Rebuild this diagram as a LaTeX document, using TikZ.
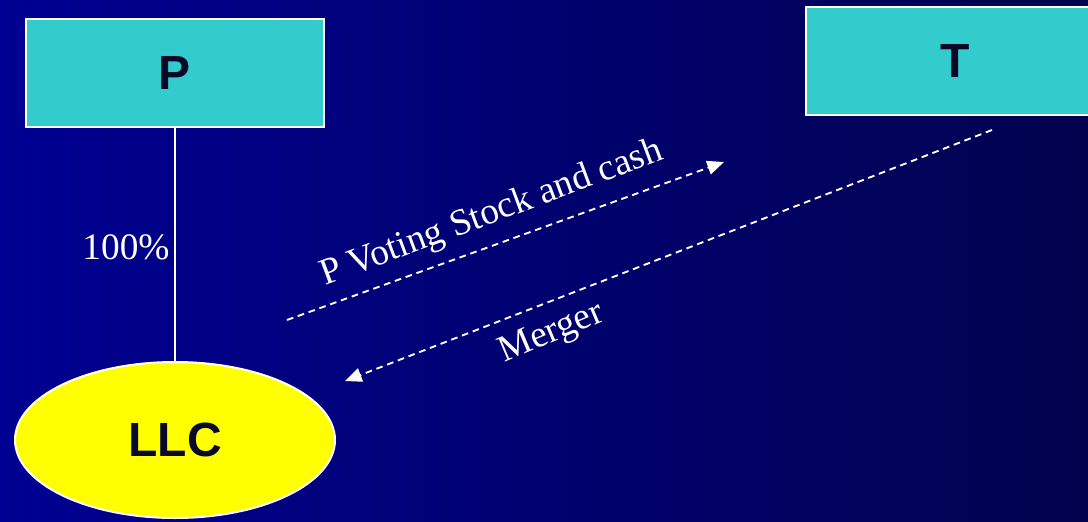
\documentclass[tikz,border=0pt]{standalone}
\usepackage{fontspec}
\setmainfont{Liberation Serif}
\newfontfamily\arialfont{Liberation Sans}
\usetikzlibrary{arrows.meta,shapes.geometric}
\definecolor{bgleft}{RGB}{0,0,146}
\definecolor{bgright}{RGB}{2,2,78}
\definecolor{boxcyan}{RGB}{51,204,204}
\definecolor{llcyellow}{RGB}{255,255,0}
\definecolor{inktext}{RGB}{8,8,40}
\tikzset{
  entity/.style={draw=white, line width=1.5pt, fill=boxcyan, minimum width=298*0.75pt, minimum height=108*0.75pt, inner sep=0pt,
    font=\arialfont\bfseries\fontsize{36}{40}\selectfont, text=inktext},
  llcshape/.style={ellipse, draw=white, line width=1.5pt, fill=llcyellow, minimum width=320*0.75pt, minimum height=156*0.75pt, inner sep=0pt,
    font=\arialfont\bfseries\fontsize{36}{40}\selectfont, text=inktext},
  owner/.style={draw=white, line width=1.2pt},
  flow/.style={draw=white, line width=1.4pt, dash pattern=on 5pt off 3.6pt, -{Triangle[length=12.5pt,width=10.5pt]}},
  lbl/.style={text=white, font=\fontsize{28}{30}\selectfont, inner sep=0pt}
}
\begin{document}
\begin{tikzpicture}[x=0.75pt,y=-0.75pt]
\useasboundingbox (0,0) rectangle (1088,521);
\clip (0,0) rectangle (1088,521);
\shade[left color=bgleft, right color=bgright] (0,0) rectangle (1088,521);
\node[entity] (P) at (175,73) {P};
\node[entity] (T) at (955,61) {T};
\node[llcshape] (LLC) at (175,440) {LLC};
\draw[owner] (P) -- (LLC);
\node[lbl] (pct) at (126,247) {100\%};
\coordinate (a1s) at (287,320);
\coordinate (a1e) at (724,162);
\coordinate (a2s) at (992,130);
\coordinate (a2e) at (345,381);
\draw[flow] (a1s) -- (a1e);
\draw[flow] (a2s) -- (a2e);
\node[lbl, rotate=20.5] (pvs) at (492,214) {P Voting Stock and cash};
\node[lbl, rotate=23] (mrg) at (552,334) {Merger};
\end{tikzpicture}
\end{document}
